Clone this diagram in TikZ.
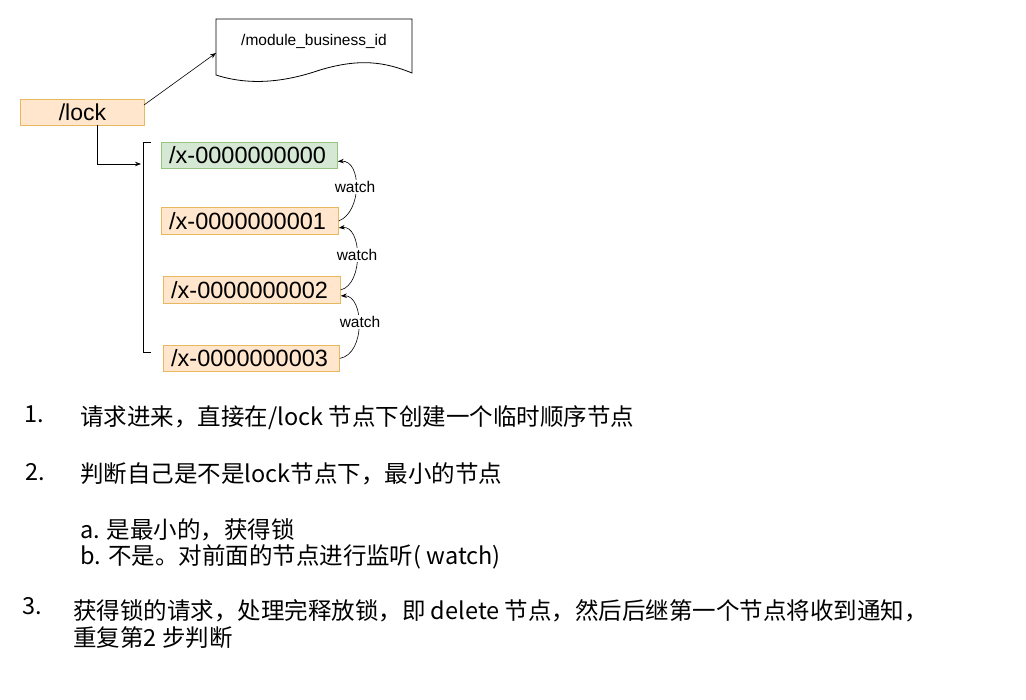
\documentclass[tikz,border=0pt]{standalone}
\usepackage{fontspec}
\setmainfont{Liberation Sans}
\newfontfamily\cjk{Noto Sans CJK SC}
\usetikzlibrary{arrows.meta}
\definecolor{ofill}{HTML}{FFE6CC}
\definecolor{odraw}{HTML}{E8B860}
\definecolor{gfill}{HTML}{D5E8D4}
\definecolor{gdraw}{HTML}{97C57F}
\begin{document}
\begin{tikzpicture}[x=1pt,y=-1pt,
  obox/.style={draw=odraw,fill=ofill,line width=0.8pt,anchor=north west,inner sep=0pt},
  wlab/.style={font=\fontsize{15.5}{16}\selectfont,fill=white,inner sep=1pt},
  txt/.style={anchor=west,inner sep=0pt,font=\cjk\fontsize{23.5}{26}\selectfont},
  arr/.style={-{Stealth[length=6pt,width=4.5pt]},line width=0.6pt}]
\useasboundingbox (0,0) rectangle (1026,700);
% document shape
\draw[line width=0.8pt] (216,19) -- (412,19) -- (412,73)
  .. controls (385,62) and (360,58) .. (320,70)
  .. controls (285,82) and (250,86) .. (216,75) -- cycle;
\node[font=\fontsize{15.5}{16}\selectfont] (doc) at (314,41) {/module\_business\_id};
\coordinate (docin) at (216,53);
\node[obox,minimum width=124pt,minimum height=26pt] (lock) at (20,99) {};
\node at (lock.center) [font=\fontsize{23}{24}\selectfont] {/lock};
\draw[arr] (144,105) -- (docin);
% bracket
\draw[line width=1pt] (151,143) -- (143,143) -- (143,353) -- (151,353);
\coordinate (brk) at (141,164);
\draw[arr,line width=0.8pt] (97,125) |- (brk);
% boxes
\node[obox,draw=gdraw,fill=gfill,minimum width=176pt,minimum height=26pt] (x0) at (161,142) {};
\node[obox,minimum width=177pt,minimum height=27pt] (x1) at (161,207) {};
\node[obox,minimum width=177pt,minimum height=27pt] (x2) at (163,276) {};
\node[obox,minimum width=176pt,minimum height=26pt] (x3) at (163,345) {};
\foreach \n/\t in {x0/0000000000,x1/0000000001,x2/0000000002,x3/0000000003}
  \node[font=\fontsize{23.5}{24}\selectfont,anchor=west,inner sep=0pt] at ([xshift=8pt]\n.west) {/x-\t};
% watch arrows
\draw[arr] (x1.east) .. controls (362,212) and (362,160) .. ([yshift=-6pt]x0.east);
\draw[arr] (x2.east) .. controls (364,284) and (362,225) .. ([yshift=-7pt]x1.east);
\draw[arr] (x3.east) .. controls (366,354) and (364,295) .. ([yshift=-6pt]x2.east);
\node[wlab] at (355,187) {watch};
\node[wlab] at (357,255) {watch};
\node[wlab] at (360,322) {watch};
% text
\node[txt] (n1) at (24,414) {1.};
\node[txt] (t1) at (80,418) {请求进来，直接在/lock 节点下创建一个临时顺序节点};
\node[txt] (n2) at (25,472) {2.};
\node[txt] (t2) at (80,474) {判断自己是不是lock节点下，最小的节点};
\node[txt] (ta) at (80,530) {a. 是最小的，获得锁};
\node[txt] (tb) at (80,557) {b. 不是。对前面的节点进行监听( watch)};
\node[txt] (n3) at (22,606) {3.};
\node[txt] (t3) at (73,611) {获得锁的请求，处理完释放锁，即 delete 节点，然后后继第一个节点将收到通知，};
\node[txt] (t4) at (73,638) {重复第2 步判断};
\end{tikzpicture}
\end{document}
